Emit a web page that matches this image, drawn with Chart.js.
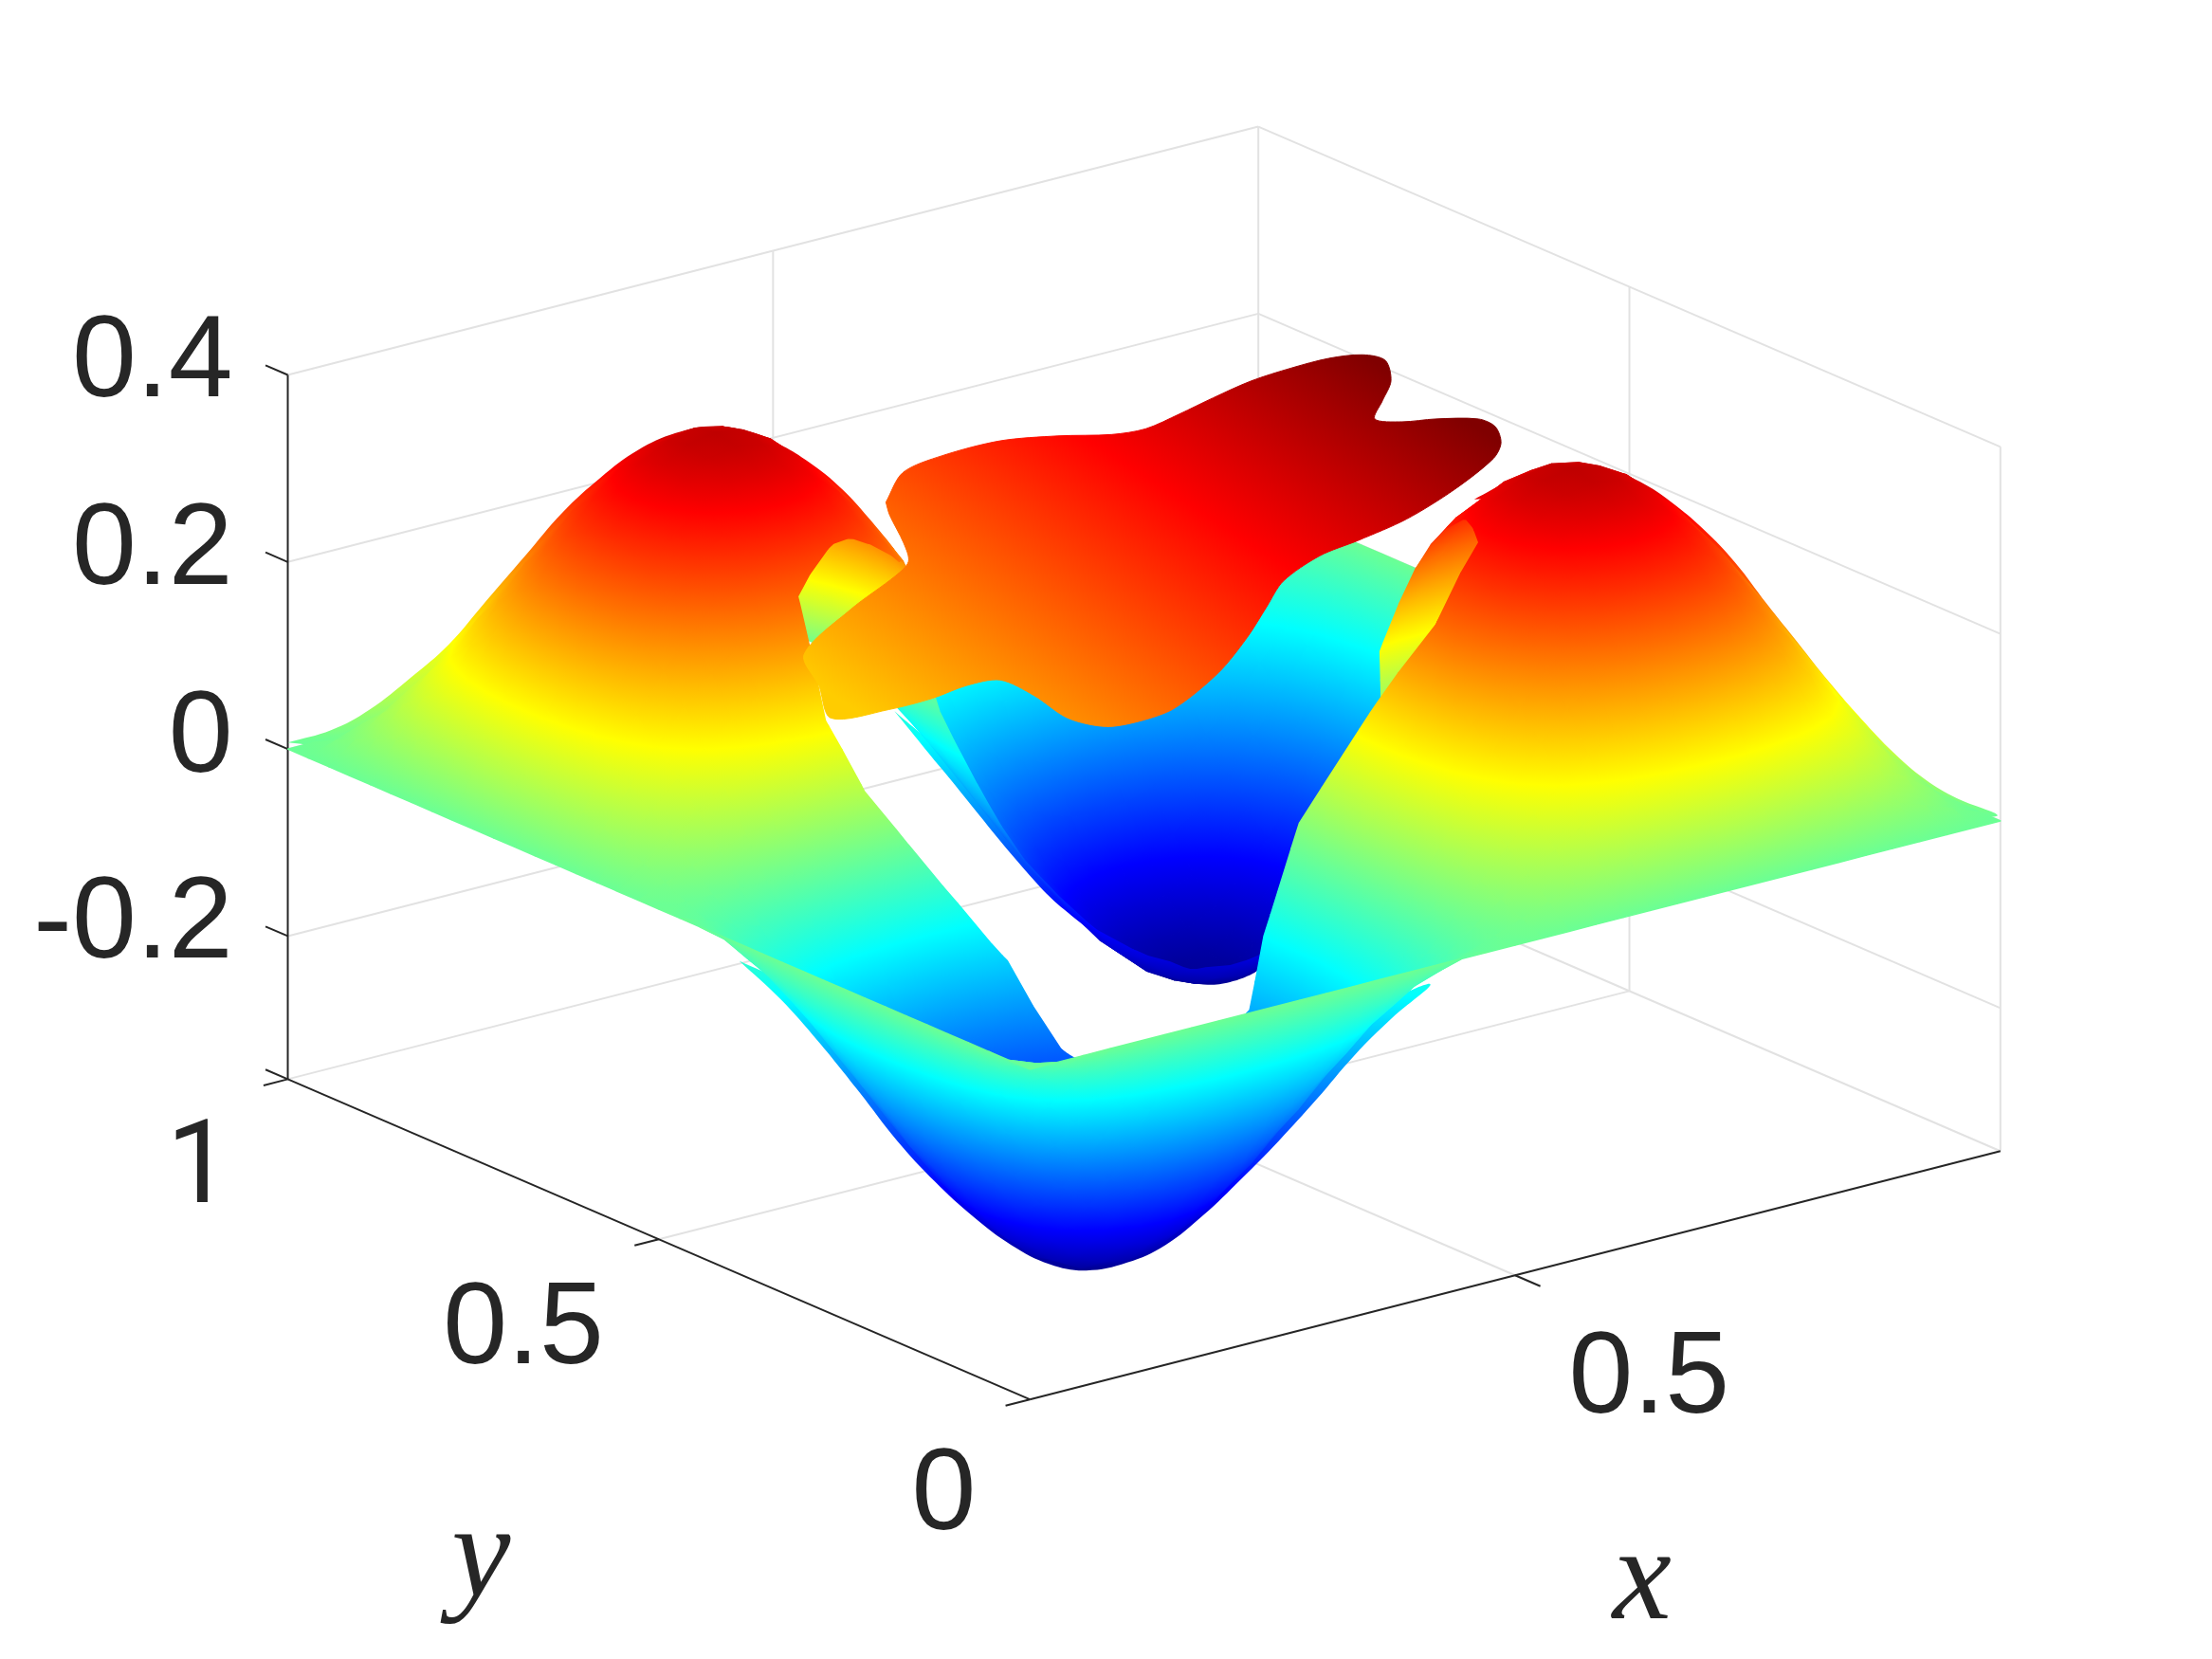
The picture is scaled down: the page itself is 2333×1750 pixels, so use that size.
<!DOCTYPE html>
<html>
<head>
<meta charset="utf-8">
<title>Surface</title>
<script src="https://cdn.jsdelivr.net/npm/chart.js@4"></script>
<style>
  html, body { margin: 0; background: #fff; }
  #wrap { width: 2333px; height: 1750px; }
</style>
</head>
<body>
<div id="wrap"><canvas id="plot" width="2333" height="1750"></canvas></div>
<script>
// surface heights, one list per line of constant y (x step 1/36)
const flat = [0,0,0,0,0,0,0,0,0,0,0,0,0,0,0,0,0,0,0,0,0,0,0,0,0,0,0,0,0,0,0,0,0,0,0,0,0];
const r1 = [0,-.011,-.022,-.032,-.041,-.049,-.055,-.060,-.063,-.064,-.063,-.060,-.055,-.049,-.041,-.032,-.022,-.011,0,.011,.022,.032,.041,.049,.055,.060,.063,.064,.063,.060,.055,.049,.041,.032,.022,.011,0];
const r2 = [0,-.022,-.043,-.062,-.080,-.096,-.108,-.117,-.123,-.125,-.123,-.117,-.108,-.096,-.080,-.062,-.043,-.022,0,.022,.043,.062,.080,.096,.108,.117,.123,.125,.123,.117,.108,.096,.080,.062,.043,.022,0];
const r3 = [0,-.032,-.062,-.091,-.117,-.140,-.158,-.172,-.180,-.183,-.180,-.172,-.158,-.140,-.117,-.091,-.062,-.032,0,.032,.062,.091,.117,.140,.158,.172,.180,.183,.180,.172,.158,.140,.117,.091,.062,.032,0];
const r4 = [0,-.041,-.080,-.117,-.151,-.180,-.203,-.221,-.231,-.235,-.231,-.221,-.203,-.180,-.151,-.117,-.080,-.041,0,.041,.080,.117,.151,.180,.203,.221,.231,.235,.231,.221,.203,.180,.151,.117,.080,.041,0];
const r5 = [0,-.049,-.096,-.140,-.180,-.214,-.242,-.263,-.275,-.280,-.275,-.263,-.242,-.214,-.180,-.140,-.096,-.049,0,.049,.096,.140,.180,.214,.242,.263,.275,.280,.275,.263,.242,.214,.180,.140,.096,.049,0];
const r6 = [0,-.055,-.108,-.158,-.203,-.242,-.274,-.297,-.311,-.316,-.311,-.297,-.274,-.242,-.203,-.158,-.108,-.055,0,.055,.108,.158,.203,.242,.274,.297,.311,.316,.311,.297,.274,.242,.203,.158,.108,.055,0];
const r7 = [0,-.060,-.117,-.172,-.221,-.263,-.297,-.323,-.338,-.343,-.338,-.323,-.297,-.263,-.221,-.172,-.117,-.060,0,.060,.117,.172,.221,.263,.297,.323,.338,.343,.338,.323,.297,.263,.221,.172,.117,.060,0];
const r8 = [0,-.063,-.123,-.180,-.231,-.275,-.311,-.338,-.354,-.360,-.354,-.338,-.311,-.275,-.231,-.180,-.123,-.063,0,.063,.123,.180,.231,.275,.311,.338,.354,.360,.354,.338,.311,.275,.231,.180,.123,.063,0];
const r9 = [0,-.064,-.125,-.183,-.235,-.280,-.316,-.343,-.360,-.365,-.360,-.343,-.316,-.280,-.235,-.183,-.125,-.064,0,.064,.125,.183,.235,.280,.316,.343,.360,.365,.360,.343,.316,.280,.235,.183,.125,.064,0];
const n1 = [0,.011,.022,.032,.041,.049,.055,.060,.063,.064,.063,.060,.055,.049,.041,.032,.022,.011,0,-.011,-.022,-.032,-.041,-.049,-.055,-.060,-.063,-.064,-.063,-.060,-.055,-.049,-.041,-.032,-.022,-.011,0];
const n2 = [0,.022,.043,.062,.080,.096,.108,.117,.123,.125,.123,.117,.108,.096,.080,.062,.043,.022,0,-.022,-.043,-.062,-.080,-.096,-.108,-.117,-.123,-.125,-.123,-.117,-.108,-.096,-.080,-.062,-.043,-.022,0];
const n3 = [0,.032,.062,.091,.117,.140,.158,.172,.180,.183,.180,.172,.158,.140,.117,.091,.062,.032,0,-.032,-.062,-.091,-.117,-.140,-.158,-.172,-.180,-.183,-.180,-.172,-.158,-.140,-.117,-.091,-.062,-.032,0];
const n4 = [0,.041,.080,.117,.151,.180,.203,.221,.231,.235,.231,.221,.203,.180,.151,.117,.080,.041,0,-.041,-.080,-.117,-.151,-.180,-.203,-.221,-.231,-.235,-.231,-.221,-.203,-.180,-.151,-.117,-.080,-.041,0];
const n5 = [0,.049,.096,.140,.180,.214,.242,.263,.275,.280,.275,.263,.242,.214,.180,.140,.096,.049,0,-.049,-.096,-.140,-.180,-.214,-.242,-.263,-.275,-.280,-.275,-.263,-.242,-.214,-.180,-.140,-.096,-.049,0];
const n6 = [0,.055,.108,.158,.203,.242,.274,.297,.311,.316,.311,.297,.274,.242,.203,.158,.108,.055,0,-.055,-.108,-.158,-.203,-.242,-.274,-.297,-.311,-.316,-.311,-.297,-.274,-.242,-.203,-.158,-.108,-.055,0];
const n7 = [0,.060,.117,.172,.221,.263,.297,.323,.338,.343,.338,.323,.297,.263,.221,.172,.117,.060,0,-.060,-.117,-.172,-.221,-.263,-.297,-.323,-.338,-.343,-.338,-.323,-.297,-.263,-.221,-.172,-.117,-.060,0];
const n8 = [0,.063,.123,.180,.231,.275,.311,.338,.354,.360,.354,.338,.311,.275,.231,.180,.123,.063,0,-.063,-.123,-.180,-.231,-.275,-.311,-.338,-.354,-.360,-.354,-.338,-.311,-.275,-.231,-.180,-.123,-.063,0];
const n9 = [0,.064,.125,.183,.235,.280,.316,.343,.360,.365,.360,.343,.316,.280,.235,.183,.125,.064,0,-.064,-.125,-.183,-.235,-.280,-.316,-.343,-.360,-.365,-.360,-.343,-.316,-.280,-.235,-.183,-.125,-.064,0];
const zRows = [flat,r1,r2,r3,r4,r5,r6,r7,r8,r9,r8,r7,r6,r5,r4,r3,r2,r1,flat,n1,n2,n3,n4,n5,n6,n7,n8,n9,n8,n7,n6,n5,n4,n3,n2,n1,flat];
const heightScale = .98;

// the part of the surface that was lifted away: for each x, the y range that is missing
const holeX    = [.216,.231,.287,.314,.330,.370,.433,.463,.511,.569,.610,.660,.679,.700,.705,.745,.780,.833];
const holeLowY = [.558,.525,.472,.441,.390,.330,.270,.290,.305,.275,.250,.258,.300,.420,.450,.500,.540,.605];
const holeTopY = [.558,.615,.640,.648,.650,.660,.725,.760,.790,.800,.805,.720,.700,.690,.685,.660,.640,.605];

// lifted piece, outline in plot units
const blobX = [628,640,668,709,750,788,812,836,860,887,915,942,966,982,986,980,974.5,994,1017.5,1048,1060,1064,1058.6,1031,997,963,935.5,909.6,898,884,863.6,832.6,808.5,784,757,733,709,685,661,630,589,580.5,570,603,635,644,640.6,630.6];
const blobY = [356,335,323,312.5,309,308,304,293.5,282,270,261,254,251.5,255.5,270,284,297,299,297,297,302.5,314,325,347,368,383,394,412,430,452,477,502,511,515,509,493,482,486,495,503,509,486,464,432,408,398,385,365];
const blobShade = { fromX: 580, fromY: 486, toX: 799, toY: 144, fromZ: .1525, toZ: .406 };

// outer outlines of the two hills and two hollows, in plot units
const leftHillX = [204,235,262,291,318,345,372,399,426,452,479,506,533,552,571,594,616,636];
const leftHillY = [526.4,517.5,503,480.5,457,425.6,394.3,363,338.3,319.2,307,302,306.5,314.7,326,344,367.4,393.2];
const rightHillX = [1045,1068.6,1091,1114.5,1138,1162.7,1185,1207.5,1230,1252.3,1274.7,1297,1319.5,1342,1364.3,1386.7,1416];
const rightHillY = [354,341.6,332.7,328.9,331.6,341.6,356.2,375.2,398.8,427.9,455.9,483.9,509.7,533.2,552.2,565.7,578];
const frontHollowX = [524,553,580,609,636,663,690,717,744,770,799,826,853,880,906.5,933,960,987,1014];
const frontHollowY = [681,708,738.2,774,808.7,837.8,862.5,882.6,896.1,900.6,895,882.6,861.4,835.6,808.7,779.6,748.2,721.4,697.8];
const backHollowX = [634,667,736,766,796,823,853,874,892];
const backHollowY = [504,544.4,627.3,654.2,676.6,691.1,697.8,695.6,686.7];

const zTicks = [.4, .2, 0, -.2];
const zLow = -.353;
const zHigh = .4;
const xTickValues = [.5];
const yTickValues = [0, .5, 1];

const zTickLabels = ['0.4', '0.2', '0', '-0.2'];
const zLabelX = [165, 165, 165, 165];
const zLabelY = [281, 414, 547, 679];
const floorLabels = ['1', '0.5', '0', '0.5'];
const floorLabelX = [141, 371, 669, 1169];
const floorLabelY = [852, 966, 1084, 1001];
const axisNames = ['y', 'x'];
const axisNameX = [341, 1164];
const axisNameY = [1131, 1147];

const colorLow = -.374;
const colorHigh = .406;

function project(x, y, z) {
    return { x: 730 + 688 * x - 526 * y, y: 992 - 176 * x - 227 * y - 663 * (z - zLow) };
}

function jet(f) {
    const c = v => Math.round(255 * Math.max(0, Math.min(1, v)));
    return `rgb(${c(1.5 - Math.abs(4 * f - 3))},${c(1.5 - Math.abs(4 * f - 2))},${c(1.5 - Math.abs(4 * f - 1))})`;
}

const colorFrac = z => (z - colorLow) / (colorHigh - colorLow);

function jetStops(grad, z0, z1) {
    const f0 = colorFrac(z0), f1 = colorFrac(z1);
    grad.addColorStop(0, jet(f0));
    [.125, .375, .625, .875].forEach(b => {
        if (b > f0 && b < f1) grad.addColorStop((b - f0) / (f1 - f0), jet(b));
    });
    grad.addColorStop(1, jet(f1));
}

function holeEdge(list, x) {
    if (x <= holeX[0]) return list[0];
    for (let k = 1; k < holeX.length; k++) {
        if (x <= holeX[k]) {
            const t = (x - holeX[k - 1]) / (holeX[k] - holeX[k - 1]);
            return list[k - 1] + t * (list[k] - list[k - 1]);
        }
    }
    return list[list.length - 1];
}

// where a hole edge crosses a line of constant y
function edgeCrossings(list, level) {
    const out = [];
    for (let k = 1; k < holeX.length; k++) {
        const a = list[k - 1], b = list[k];
        if ((a - level) * (b - level) < 0) out.push(holeX[k - 1] + (level - a) / (b - a) * (holeX[k] - holeX[k - 1]));
    }
    return out;
}

// cuts one grid cell against the hole, gives back up to two pieces
function cellPieces(i, j) {
    const n = zRows.length - 1;
    const x0 = i / n, x1 = (i + 1) / n, y0 = j / n, y1 = (j + 1) / n;
    const z00 = zRows[j][i], z10 = zRows[j][i + 1], z01 = zRows[j + 1][i], z11 = zRows[j + 1][i + 1];
    const height = (x, y) => {
        const u = (x - x0) / (x1 - x0), v = (y - y0) / (y1 - y0);
        return heightScale * (z00 * (1 - u) * (1 - v) + z10 * u * (1 - v) + z01 * (1 - u) * v + z11 * u * v);
    };
    const clampY = y => Math.max(y0, Math.min(y1, y));
    const stations = list => {
        const inner = [...holeX, ...edgeCrossings(list, y0), ...edgeCrossings(list, y1)].filter(k => k > x0 && k < x1);
        return [x0, ...inner.sort((a, b) => a - b), x1];
    };
    const span = (edge, isOpen) => {
        let first = -1, last = -1;
        edge.forEach((y, k) => { if (isOpen(y)) { if (first < 0) first = k; last = k; } });
        if (first < 0) return null;
        return [Math.max(0, first - 1), Math.min(edge.length - 1, last + 1)];
    };
    const pieces = [];

    const lowXs = stations(holeLowY);
    const lowEdge = lowXs.map(x => clampY(holeEdge(holeLowY, x)));
    const lowSpan = span(lowEdge, y => y > y0 + 1e-6);
    if (lowSpan) {
        const poly = [[lowXs[lowSpan[0]], y0], [lowXs[lowSpan[1]], y0]];
        for (let k = lowSpan[1]; k >= lowSpan[0]; k--) poly.push([lowXs[k], lowEdge[k]]);
        pieces.push(poly);
    }
    const topXs = stations(holeTopY);
    const topEdge = topXs.map(x => clampY(holeEdge(holeTopY, x)));
    const topSpan = span(topEdge, y => y < y1 - 1e-6);
    if (topSpan) {
        const poly = [[topXs[topSpan[1]], y1], [topXs[topSpan[0]], y1]];
        for (let k = topSpan[0]; k <= topSpan[1]; k++) poly.push([topXs[k], topEdge[k]]);
        pieces.push(poly);
    }
    return pieces.map(poly => poly.map(p => ({ gx: p[0], gy: p[1], gz: height(p[0], p[1]) })));
}

function scalesReady(chart) {
    return chart.chartArea && Number.isFinite(chart.scales.x.getPixelForValue(1)) && Number.isFinite(chart.scales.y.getPixelForValue(1));
}

// linear colour ramp over one piece, fitted on its corners in pixels
function pieceFill(chart, verts) {
    if (!scalesReady(chart)) return 'rgba(0,0,0,0)';
    if (verts.fillStyle) return verts.fillStyle;
    const sx = chart.scales.x, sy = chart.scales.y;
    const pts = verts.map(v => {
        const p = project(v.gx, v.gy, v.gz);
        return { x: sx.getPixelForValue(p.x), y: sy.getPixelForValue(p.y), z: v.gz };
    });
    const m = a => pts.reduce((s, p) => s + p[a], 0) / pts.length;
    const cx = m('x'), cy = m('y'), cz = m('z');
    let xx = 0, xy = 0, yy = 0, xz = 0, yz = 0;
    pts.forEach(p => {
        const dx = p.x - cx, dy = p.y - cy, dz = p.z - cz;
        xx += dx * dx; xy += dx * dy; yy += dy * dy; xz += dx * dz; yz += dy * dz;
    });
    const det = xx * yy - xy * xy;
    const zs = pts.map(p => p.z);
    const zMin = Math.min(...zs), zMax = Math.max(...zs);
    if (det < 1 || zMax - zMin < 1e-4) {
        verts.fillStyle = jet(colorFrac(cz));
        return verts.fillStyle;
    }
    const a = (yy * xz - xy * yz) / det, b = (xx * yz - xy * xz) / det;
    const g2 = a * a + b * b;
    if (g2 < 1e-12) {
        verts.fillStyle = jet(colorFrac(cz));
        return verts.fillStyle;
    }
    const t0 = (zMin - cz) / g2, t1 = (zMax - cz) / g2;
    const grad = chart.ctx.createLinearGradient(cx + a * t0, cy + b * t0, cx + a * t1, cy + b * t1);
    jetStops(grad, zMin, zMax);
    verts.fillStyle = grad;
    return grad;
}

function shadeFill(chart, s) {
    if (!scalesReady(chart)) return 'rgba(0,0,0,0)';
    const sx = chart.scales.x, sy = chart.scales.y;
    const grad = chart.ctx.createLinearGradient(
        sx.getPixelForValue(s.fromX), sy.getPixelForValue(s.fromY),
        sx.getPixelForValue(s.toX), sy.getPixelForValue(s.toY));
    jetStops(grad, s.fromZ, s.toZ);
    return grad;
}

function lineSet(a, b, color, width) {
    return {
        data: [project(a[0], a[1], a[2]), project(b[0], b[1], b[2])],
        showLine: true, borderColor: color, borderWidth: width, pointRadius: 0, fill: false
    };
}

// thin band under the mesh that keeps the outer outline smooth, it narrows at both ends
function rimSet(xs, ys, inset, shade) {
    const last = xs.length - 1;
    const outer = xs.map((x, k) => ({ x, y: ys[k] }));
    const inner = xs.map((x, k) => ({ x, y: ys[k] + inset * Math.min(1, k / 1.3, (last - k) / 1.3) })).reverse();
    return {
        data: [...outer, ...inner.slice(1, -1), outer[0]],
        showLine: true,
        pointRadius: 0,
        fill: 'shape',
        tension: .4,
        borderWidth: 0,
        backgroundColor: c => shadeFill(c.chart, shade)
    };
}

const rimSets = [
    rimSet(leftHillX, leftHillY, 14, { fromX: 0, fromY: 526, toX: 0, toY: 302, fromZ: 0, toZ: .358 }),
    rimSet(rightHillX, rightHillY, 14, { fromX: 0, fromY: 579, toX: 0, toY: 329, fromZ: 0, toZ: .358 }),
    rimSet(frontHollowX, frontHollowY, -16, { fromX: 0, fromY: 900.6, toX: 0, toY: 663, fromZ: -.358, toZ: -.02 }),
    rimSet(backHollowX, backHollowY, -14, { fromX: 0, fromY: 697.8, toX: 0, toY: 504, fromZ: -.358, toZ: -.05 })
];

const gridColor = '#e2e2e2';
const axisColor = '#262626';
const gridSets = [];
[...zTicks, zLow].forEach(z => {
    gridSets.push(lineSet([0, 1, z], [1, 1, z], gridColor, 2));
    gridSets.push(lineSet([1, 1, z], [1, 0, z], gridColor, 2));
});
[[.5, 1], [1, 1], [1, .5], [1, 0]].forEach(c => {
    gridSets.push(lineSet([c[0], c[1], zLow], [c[0], c[1], zHigh], gridColor, 2));
});
xTickValues.forEach(x => gridSets.push(lineSet([x, 0, zLow], [x, 1, zLow], gridColor, 2)));
gridSets.push(lineSet([0, .5, zLow], [1, .5, zLow], gridColor, 2));

const axisSets = [
    lineSet([0, 1, zLow], [0, 1, zHigh], axisColor, 2),
    lineSet([0, 1, zLow], [0, 0, zLow], axisColor, 2),
    lineSet([0, 0, zLow], [1, 0, zLow], axisColor, 2)
];
zTicks.forEach(z => axisSets.push(lineSet([0, 1, z], [0, 1.03, z], axisColor, 2)));
axisSets.push(lineSet([0, 1, zLow], [0, 1.03, zLow], axisColor, 2));
yTickValues.forEach(y => axisSets.push(lineSet([0, y, zLow], [-.025, y, zLow], axisColor, 2)));
xTickValues.forEach(x => axisSets.push(lineSet([x, 0, zLow], [x, -.034, zLow], axisColor, 2)));

// near pieces first, chart.js paints the first dataset last
const pieces = [];
for (let j = 0; j < zRows.length - 1; j++) {
    for (let i = 0; i < zRows[0].length - 1; i++) {
        cellPieces(i, j).forEach(verts => {
            const c = verts.reduce((s, v) => [s[0] + v.gx, s[1] + v.gy, s[2] + v.gz], [0, 0, 0]).map(v => v / verts.length);
            pieces.push({ verts, depth: .572 * c[0] + .749 * c[1] - .268 * c[2] });
        });
    }
}
pieces.sort((a, b) => a.depth - b.depth);

const surfaceSets = pieces.map(piece => {
    const pts = piece.verts.map(v => project(v.gx, v.gy, v.gz));
    pts.push(pts[0]);
    return {
        data: pts,
        showLine: true,
        pointRadius: 0,
        fill: 'shape',
        borderWidth: 1.5,
        borderJoinStyle: 'round',
        backgroundColor: c => pieceFill(c.chart, piece.verts),
        borderColor: c => pieceFill(c.chart, piece.verts)
    };
});

const blobPoints = blobX.map((x, k) => ({ x, y: blobY[k] }));
blobPoints.push(blobPoints[0]);
const blobSet = {
    data: blobPoints,
    showLine: true,
    pointRadius: 0,
    fill: 'shape',
    tension: .3,
    borderWidth: 1,
    backgroundColor: c => shadeFill(c.chart, blobShade),
    borderColor: c => shadeFill(c.chart, blobShade)
};

const textPlugin = {
    id: 'axisText',
    afterDatasetsDraw(chart) {
        const ctx = chart.ctx, sx = chart.scales.x, sy = chart.scales.y;
        ctx.save();
        ctx.fillStyle = axisColor;
        ctx.textBaseline = 'alphabetic';
        ctx.font = '122px "Liberation Sans"';
        ctx.textAlign = 'right';
        zTickLabels.forEach((t, k) => ctx.fillText(t, sx.getPixelForValue(zLabelX[k]), sy.getPixelForValue(zLabelY[k])));
        ctx.textAlign = 'center';
        floorLabels.forEach((t, k) => {
            ctx.font = t === '1' ? '122px Roboto' : '122px "Liberation Sans"';
            ctx.fillText(t, sx.getPixelForValue(floorLabelX[k]), sy.getPixelForValue(floorLabelY[k]));
        });
        ctx.font = 'italic 140px "Liberation Serif"';
        axisNames.forEach((t, k) => ctx.fillText(t, sx.getPixelForValue(axisNameX[k]), sy.getPixelForValue(axisNameY[k])));
        ctx.restore();
    }
};

new Chart(document.getElementById('plot'), {
    type: 'scatter',
    data: { datasets: [blobSet, ...surfaceSets, ...rimSets, ...axisSets, ...gridSets] },
    plugins: [textPlugin],
    options: {
        responsive: false,
        animation: false,
        events: [],
        layout: { padding: 0 },
        plugins: { legend: { display: false }, tooltip: { enabled: false } },
        scales: {
            x: { type: 'linear', min: 0, max: 1568, display: false },
            y: { type: 'linear', min: 0, max: 1176, reverse: true, display: false }
        }
    }
});
</script>
</body>
</html>
